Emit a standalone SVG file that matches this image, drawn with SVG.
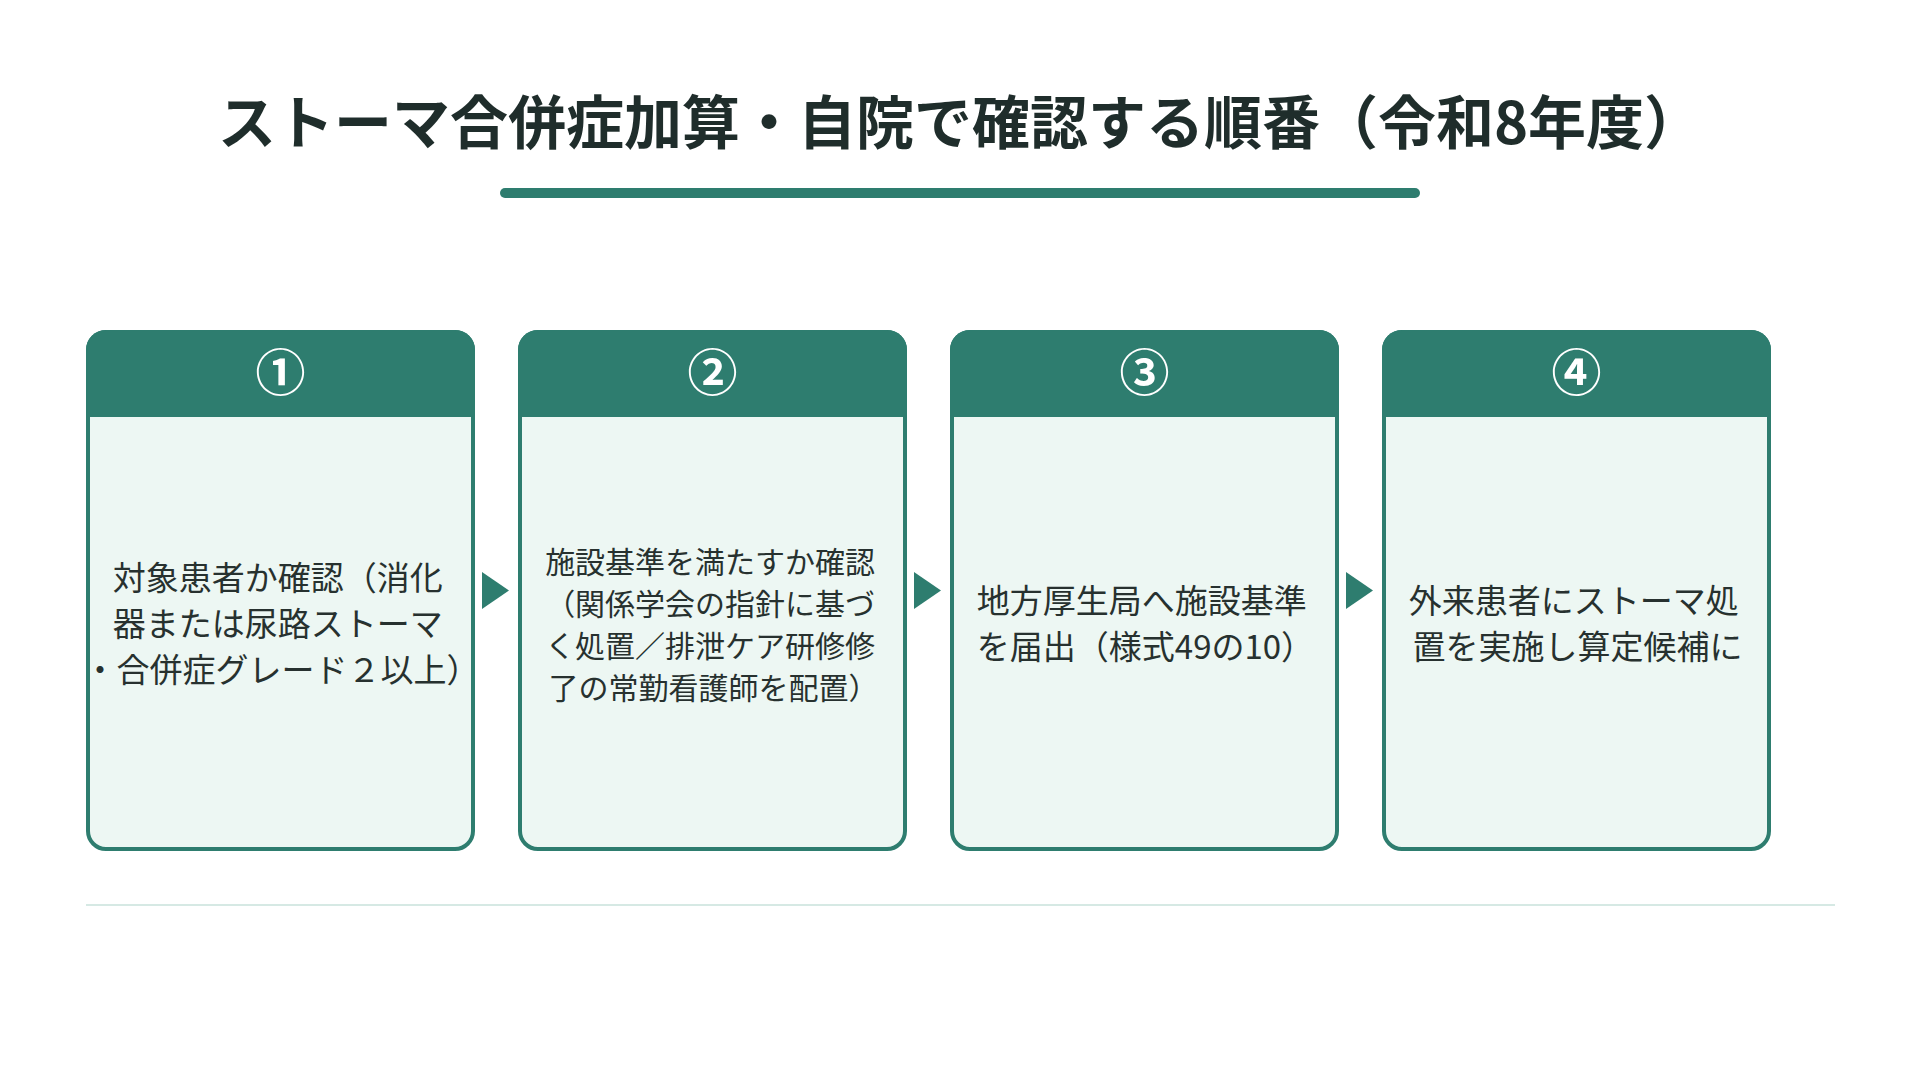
<svg xmlns="http://www.w3.org/2000/svg" width="1920" height="1080" viewBox="0 0 1920 1080">
  <defs>
    <style>
      .title { font-family: "Noto Sans CJK JP", "Noto Sans", sans-serif; font-size: 58px; font-weight: 700; fill: #1f2d2b; }
      .num { font-family: "Noto Sans CJK JP", "Noto Sans", sans-serif; font-size: 50px; font-weight: 700; fill: #ffffff; }
      .body { font-family: "Noto Sans CJK JP", "Noto Sans", sans-serif; font-size: 33px; font-weight: 400; fill: #27312f; }
      .body2 { font-family: "Noto Sans CJK JP", "Noto Sans", sans-serif; font-size: 30px; font-weight: 400; fill: #27312f; }
      .card { fill: #edf7f3; stroke: #2e7d6f; stroke-width: 4; }
      .head { fill: #2e7d6f; }
      .arrow { fill: #2e7d6f; }
    </style>
  </defs>
  <rect x="0" y="0" width="1920" height="1080" fill="#ffffff"/>

  <g id="title">
    <text class="title" x="960" y="144" text-anchor="middle">ストーマ合併症加算・自院で確認する順番（令和8年度）</text>
    <rect x="500" y="188" width="920" height="10" rx="5" fill="#2e7d6f"/>
  </g>

  <g id="node1">
    <rect class="card" x="88" y="332" width="385" height="517" rx="18"/>
    <path class="head" d="M86,417 V350 A20,20 0 0 1 106,330 H455 A20,20 0 0 1 475,350 V417 Z"/>
    <text class="num" x="280.5" y="391" text-anchor="middle">①</text>
    <text class="body" text-anchor="middle">
      <tspan x="281.5" y="590">対象患者か確認（消化</tspan>
      <tspan x="281.5" y="636">器または尿路ストーマ</tspan>
      <tspan x="281.5" y="682">・合併症グレード２以上）</tspan>
    </text>
  </g>

  <g id="node2">
    <rect class="card" x="520" y="332" width="385" height="517" rx="18"/>
    <path class="head" d="M518,417 V350 A20,20 0 0 1 538,330 H887 A20,20 0 0 1 907,350 V417 Z"/>
    <text class="num" x="712.5" y="391" text-anchor="middle">②</text>
    <text class="body2" text-anchor="middle">
      <tspan x="713.5" y="572.5">施設基準を満たすか確認</tspan>
      <tspan x="713.5" y="614.8">（関係学会の指針に基づ</tspan>
      <tspan x="713.5" y="657.1">く処置／排泄ケア研修修</tspan>
      <tspan x="713.5" y="699.4">了の常勤看護師を配置）</tspan>
    </text>
  </g>

  <g id="node3">
    <rect class="card" x="952" y="332" width="385" height="517" rx="18"/>
    <path class="head" d="M950,417 V350 A20,20 0 0 1 970,330 H1319 A20,20 0 0 1 1339,350 V417 Z"/>
    <text class="num" x="1144.5" y="391" text-anchor="middle">③</text>
    <text class="body" text-anchor="middle">
      <tspan x="1145.5" y="613">地方厚生局へ施設基準</tspan>
      <tspan x="1145.5" y="659">を届出（様式49の10）</tspan>
    </text>
  </g>

  <g id="node4">
    <rect class="card" x="1384" y="332" width="385" height="517" rx="18"/>
    <path class="head" d="M1382,417 V350 A20,20 0 0 1 1402,330 H1751 A20,20 0 0 1 1771,350 V417 Z"/>
    <text class="num" x="1576.5" y="391" text-anchor="middle">④</text>
    <text class="body" text-anchor="middle">
      <tspan x="1577.5" y="613">外来患者にストーマ処</tspan>
      <tspan x="1577.5" y="659">置を実施し算定候補に</tspan>
    </text>
  </g>

  <g id="connectors">
    <polygon class="arrow" points="482,572 509,590.5 482,609"/>
    <polygon class="arrow" points="914,572 941,590.5 914,609"/>
    <polygon class="arrow" points="1346,572 1373,590.5 1346,609"/>
  </g>

  <rect id="footer-line" x="86" y="904" width="1749" height="2" fill="#d6e9e4"/>
</svg>
